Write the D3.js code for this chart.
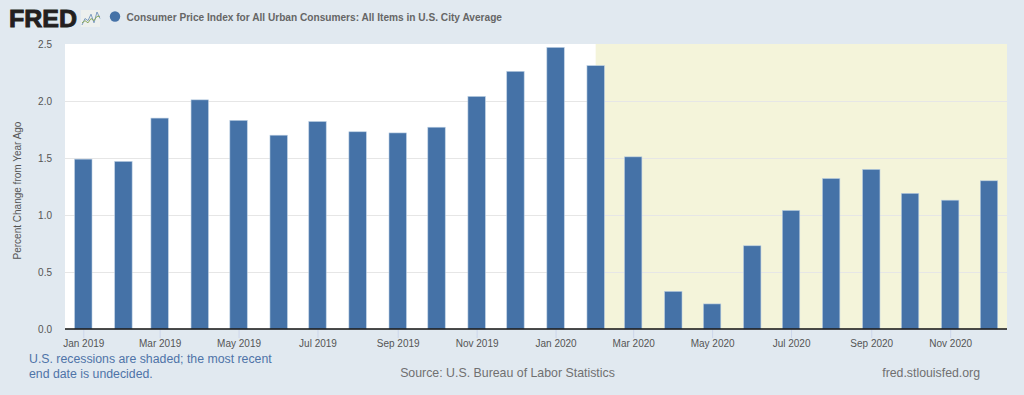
<!DOCTYPE html>
<html><head><meta charset="utf-8">
<script src="https://cdn.jsdelivr.net/npm/d3@7/dist/d3.min.js"></script>
<style>html,body{margin:0;padding:0;background:#e1e9f0;overflow:hidden}svg{display:block}text{font-family:"Liberation Sans",Arial,sans-serif}</style>
</head><body><svg id="c" width="1024" height="395"></svg>
<script>
const months = ["2019-01","2019-02","2019-03","2019-04","2019-05","2019-06","2019-07","2019-08","2019-09","2019-10","2019-11","2019-12","2020-01","2020-02","2020-03","2020-04","2020-05","2020-06","2020-07","2020-08","2020-09","2020-10","2020-11","2020-12"];
const values = [1.49,1.47,1.85,2.01,1.83,1.70,1.82,1.73,1.72,1.77,2.04,2.26,2.47,2.31,1.51,0.33,0.22,0.73,1.04,1.32,1.40,1.19,1.13,1.30];
const yTicks = [0,0.5,1.0,1.5,2.0,2.5];
const xTickMonths = ["2019-01","2019-03","2019-05","2019-07","2019-09","2019-11","2020-01","2020-03","2020-05","2020-07","2020-09","2020-11"];
const recession = ["2020-02","2020-12"];
const title = "Consumer Price Index for All Urban Consumers: All Items in U.S. City Average";
const yTitle = "Percent Change from Year Ago";
const noteLines = ["U.S. recessions are shaded; the most recent","end date is undecided."];
const source = "Source: U.S. Bureau of Labor Statistics";
const site = "fred.stlouisfed.org";
const logoLineA = [0,3,2,5,1,6,3];
const logoLineB = [1,2,1,3,2,4,4];

const P = d => d3.utcParse("%Y-%m")(d);
const L = 65, R = 1007, T = 44, B = 329;
const svg = d3.select("#c");
const x0 = P(months[0]), x1 = P(months[months.length-1]);
const pxMs = 905.7/(x1-x0);
const x = d3.scaleUtc()
  .domain([new Date(+x0-(83.3-L)/pxMs), new Date(+x1+(R-989)/pxMs)])
  .range([L,R]);
const y = d3.scaleLinear().domain([0,2.5]).range([B,T]);

svg.append("rect").attr("x",L).attr("y",T).attr("width",R-L).attr("height",B-T).attr("fill","#fff");
svg.append("rect").attr("x",x(P(recession[0]))).attr("y",T)
  .attr("width",R-x(P(recession[0]))).attr("height",B-T).attr("fill","#f4f4da");

const gy = svg.append("g").attr("transform",`translate(${L},0)`)
  .call(d3.axisLeft(y).tickValues(yTicks).tickFormat(d3.format(".1f")).tickSize(0).tickPadding(13));
gy.select(".domain").remove();
gy.selectAll("text").attr("font-size",10).attr("fill","#555");
gy.selectAll("g.tick").filter(d=>d>0&&d<2.5).append("line").attr("x2",R-L).attr("stroke","#e6e6e6").attr("stroke-width",1);

svg.append("g").selectAll("rect").data(months).join("rect")
  .attr("x",d=>x(P(d))-8.7).attr("width",17.4)
  .attr("y",(d,i)=>y(values[i])).attr("height",(d,i)=>B-y(values[i]))
  .attr("fill","#4572a7").attr("stroke","#b9cde2").attr("stroke-width",0.6);

const gx = svg.append("g").attr("transform",`translate(0,${B})`)
  .call(d3.axisBottom(x).tickValues(xTickMonths.map(P)).tickFormat(d3.utcFormat("%b %Y")).tickSize(9).tickPadding(2));
gx.select(".domain").remove();
gx.selectAll("line").attr("stroke","#ccd6eb");
gx.selectAll("text").attr("font-size",10).attr("fill","#555");
svg.append("line").attr("x1",L).attr("x2",R).attr("y1",B).attr("y2",B).attr("stroke","#111").attr("stroke-width",1.5);

svg.append("text").attr("transform",`translate(20.5,190.5) rotate(-90)`).attr("text-anchor","middle")
  .attr("font-size",10).attr("fill","#555").text(yTitle);

// header
svg.append("text").attr("x",9).attr("y",26.5).attr("font-size",24).attr("font-weight",700)
  .attr("fill","#231f20").attr("stroke","#231f20").attr("stroke-width",0.9).attr("textLength",68).attr("lengthAdjust","spacingAndGlyphs").text("FRED");
const lg = svg.append("g").attr("transform","translate(81,10)");
lg.append("rect").attr("width",19).attr("height",17).attr("fill","#edf0ee");
const lgx = d3.scalePoint().domain(d3.range(7)).range([1,19]);
const lgy = d3.scaleLinear().domain([0,6]).range([15,2]);
const ln = d3.line().x((d,i)=>lgx(i)).y(d=>lgy(d));
lg.append("path").attr("d",ln(logoLineA)).attr("fill","none").attr("stroke","#7d9cc0").attr("stroke-width",1);
lg.append("path").attr("d",ln(logoLineB)).attr("fill","none").attr("stroke","#8aa860").attr("stroke-width",1);
svg.append("circle").attr("cx",115).attr("cy",16.5).attr("r",5.2).attr("fill","#4572a7");
svg.append("text").attr("x",126.5).attr("y",20.5).attr("font-size",10.15).attr("font-weight",700).attr("fill","#666").text(title);

// footer
const note = svg.append("text").attr("font-size",12.3).attr("fill","#4f74a8");
noteLines.forEach((t,i)=>note.append("tspan").attr("x",29).attr("y",362.5+i*15).text(t));
svg.append("text").attr("x",507.5).attr("y",377).attr("text-anchor","middle").attr("font-size",12.35).attr("fill","#707070").text(source);
svg.append("text").attr("x",980).attr("y",377).attr("text-anchor","end").attr("font-size",12.3).attr("fill","#707070").text(site);
</script></body></html>
